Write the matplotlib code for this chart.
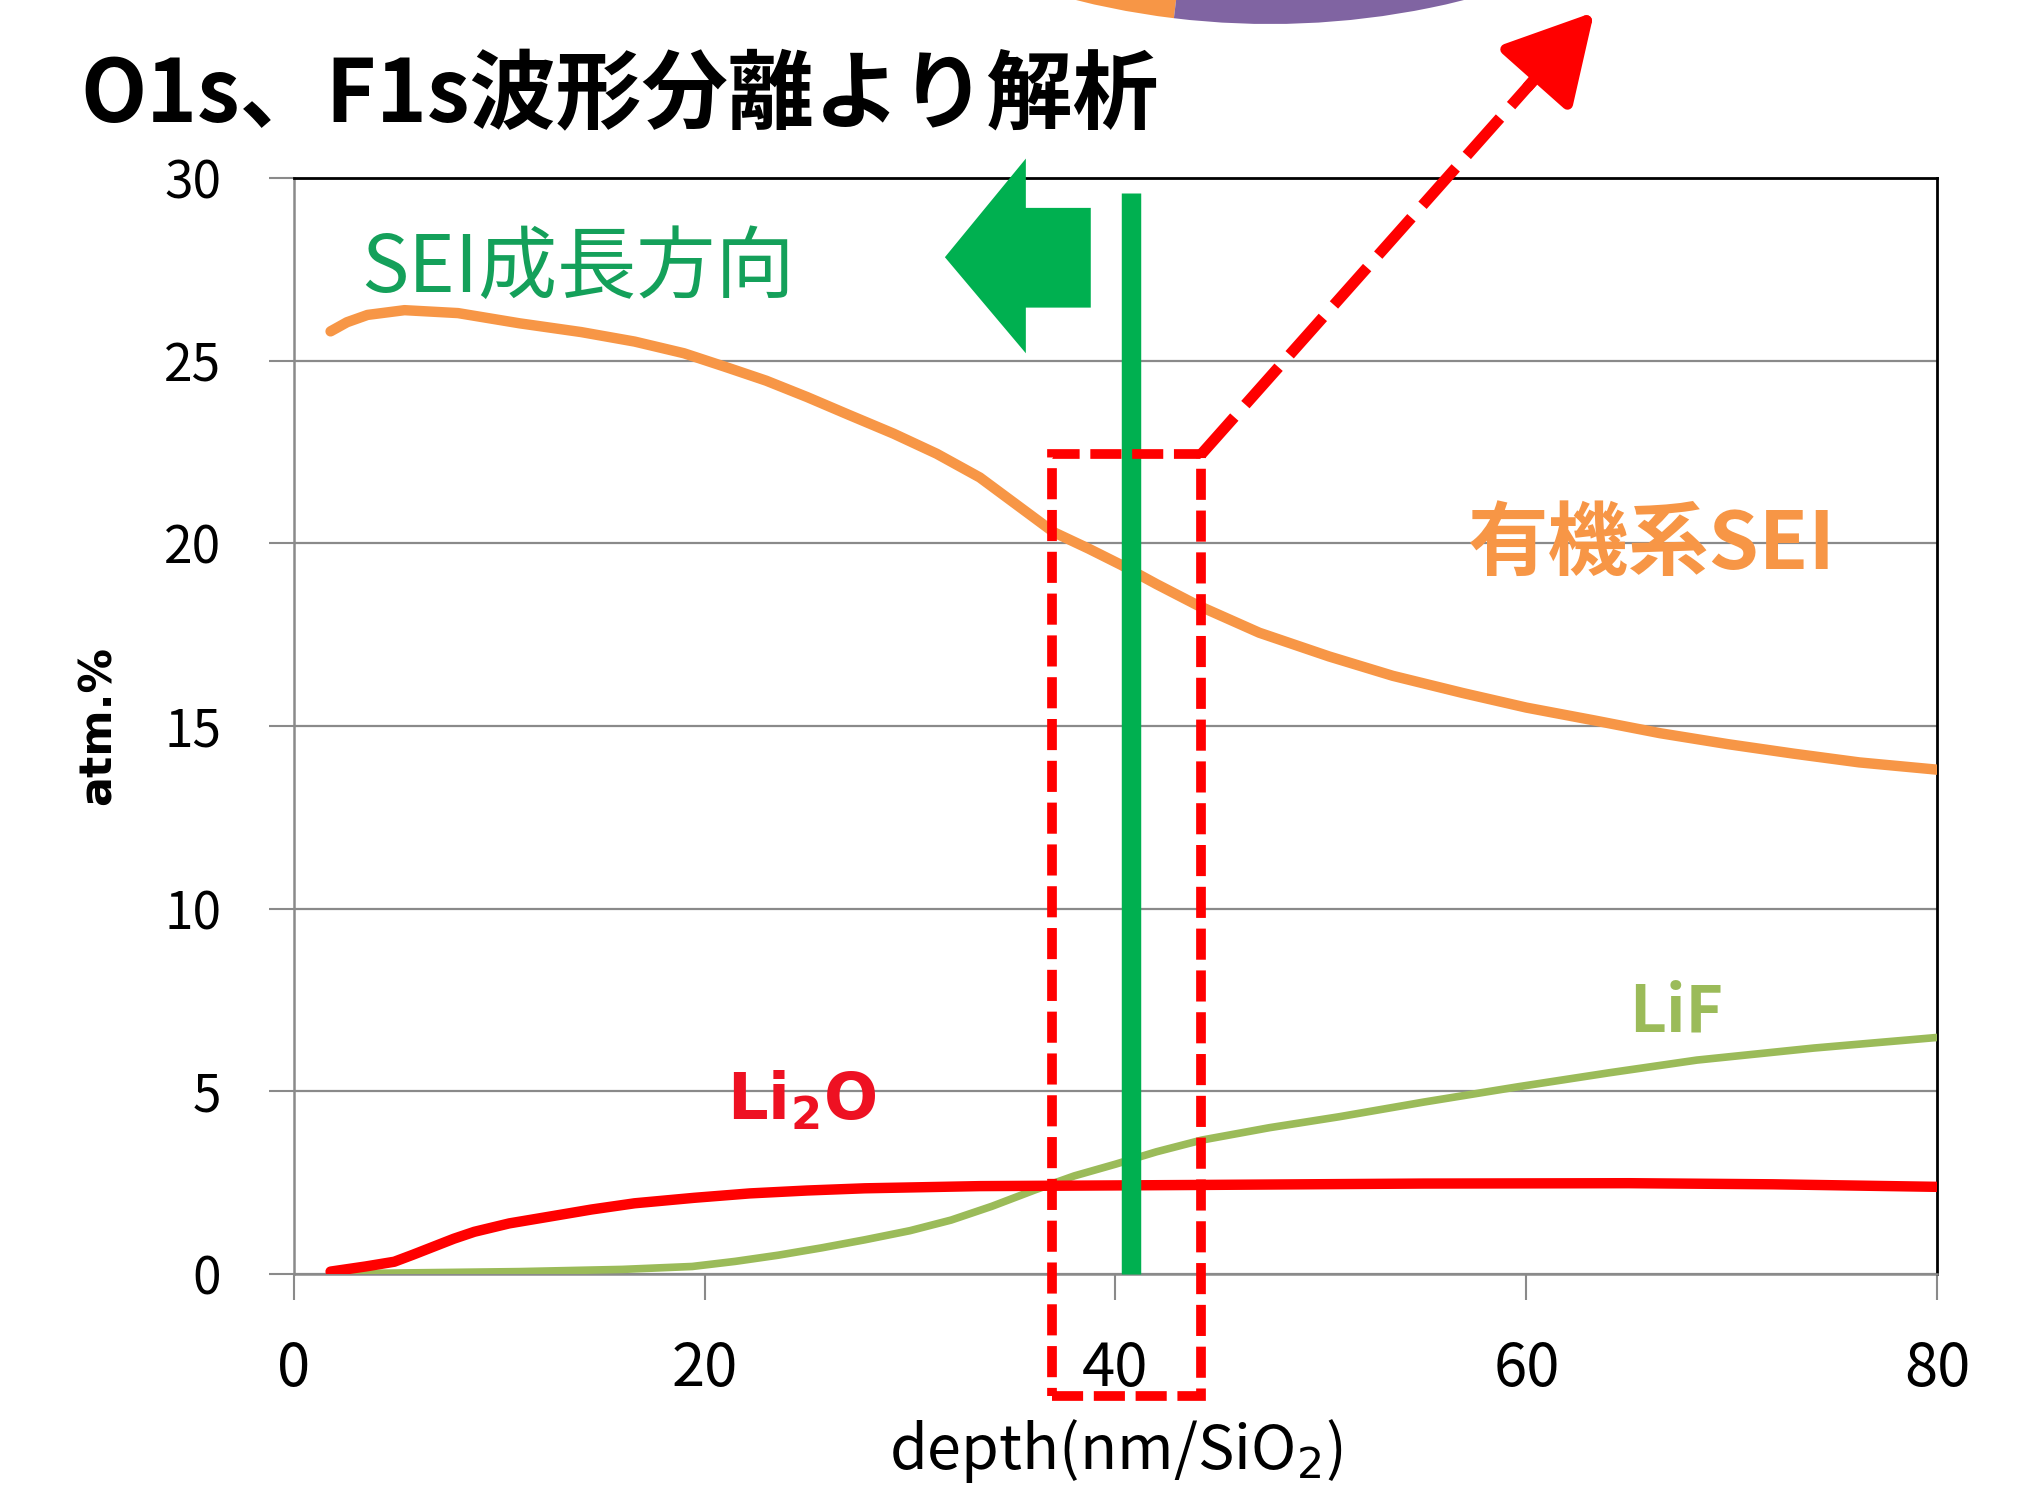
import numpy as np
import matplotlib
matplotlib.use("Agg")
import matplotlib.pyplot as plt
from matplotlib.patches import Rectangle, Polygon, Wedge, FancyArrowPatch

plt.rcParams["font.family"] = ["Noto Sans CJK JP", "DejaVu Sans"]

# Depth profiles (atm.%) from O1s / F1s peak fitting
organic_x = [1.8, 2.6, 3.6, 5.4, 8, 11, 14, 16.6, 19, 21, 23, 25, 27, 29.2, 31.3, 33.4, 35.2, 37, 38.7,
             40.3, 42, 44, 47, 50.4, 53.5, 56.9, 60, 63.3, 66.5, 69.8, 73, 76.2, 80]
organic_y = [25.8, 26.05, 26.25, 26.38, 26.3, 26.02, 25.78, 25.52, 25.2, 24.83, 24.45, 24.0, 23.52,
             23.0, 22.45, 21.8, 21.05, 20.3, 19.85, 19.4, 18.88, 18.3, 17.55, 16.9, 16.37, 15.9,
             15.5, 15.15, 14.8, 14.5, 14.24, 14.0, 13.8]

li2o_x = [1.8, 3.5, 4.9, 5.8, 6.8, 7.8, 8.8, 10.5, 12.4, 14.5, 16.6, 19.5, 22.2, 25, 27.8, 33.4, 43.6,
          55, 65, 72, 80]
li2o_y = [0.06, 0.2, 0.33, 0.52, 0.74, 0.96, 1.15, 1.38, 1.56, 1.76, 1.93, 2.08, 2.2, 2.28, 2.34,
          2.4, 2.43, 2.47, 2.48, 2.45, 2.38]

lif_x = [1.8, 11, 16, 19.4, 21.5, 23.6, 25.7, 27.8, 30, 32, 34, 36.1, 38, 40, 42, 44.2, 47.5, 50.9,
         55, 59.6, 64, 68.3, 74, 80]
lif_y = [0.0, 0.06, 0.12, 0.2, 0.34, 0.51, 0.71, 0.93, 1.18, 1.47, 1.85, 2.3, 2.68, 3.0, 3.34, 3.66,
         4.0, 4.3, 4.7, 5.12, 5.5, 5.85, 6.18, 6.47]

x_ticks = [0, 20, 40, 60, 80]
y_ticks = [0, 5, 10, 15, 20, 25, 30]

# markers on the plot
growth_depth = 40.76
zoom_box = (36.9, -3.34, 44.17, 22.43)  # x0, y0, x1, y1
pointer_tip = (63.3, 34.54)

ORANGE = "#F79646"
RED = "#FF0000"
OLIVE = "#9BBB59"
GREEN = "#00B050"
GRID = "#8A8A8A"

fig = plt.figure(figsize=(20.36, 14.94), dpi=100)

# background layer in pixel units for the pie fragment at the top
bg = fig.add_axes([0, 0, 1, 1])
bg.set_xlim(0, 2036)
bg.set_ylim(0, 1494)
bg.axis("off")
pie_c = (1270, 2270)
bg.add_patch(Wedge(pie_c, 800, 226, 263.1, facecolor=ORANGE, edgecolor="none"))
bg.add_patch(Wedge(pie_c, 800, 263.1, 300, facecolor="#8064A2", edgecolor="none"))

ax = fig.add_axes([0.1442, 0.1474, 0.8073, 0.7335])
ax.set_xlim(0, 80)
ax.set_ylim(0, 30)
ax.set_xticks(x_ticks)
ax.set_yticks(y_ticks)
ax.yaxis.grid(True, color=GRID, lw=1.6)
ax.set_axisbelow(True)

for side in ("top", "right"):
    ax.spines[side].set_color("black")
    ax.spines[side].set_linewidth(2)
for side in ("left", "bottom"):
    ax.spines[side].set_color(GRID)
    ax.spines[side].set_linewidth(1.8)

ax.tick_params(axis="y", length=18, width=1.5, color=GRID, pad=34, labelsize=37)
ax.tick_params(axis="x", length=19, width=1.5, color=GRID, pad=28, labelsize=43)

ax.plot(organic_x, organic_y, color=ORANGE, lw=7.5, solid_capstyle="round", zorder=3)
ax.plot(lif_x, lif_y, color=OLIVE, lw=5.5, solid_capstyle="round", zorder=3)
ax.plot(li2o_x, li2o_y, color=RED, lw=7.5, solid_capstyle="round", zorder=3)

# SEI growth marker and direction arrow
ax.plot([growth_depth, growth_depth], [0, 29.6], color=GREEN, lw=14,
        solid_capstyle="butt", zorder=4, clip_on=False)
arrow_pts = [(31.7, 27.83), (35.64, 30.53), (35.64, 29.18), (38.8, 29.18),
             (38.8, 26.45), (35.64, 26.45), (35.64, 25.2)]
ax.add_patch(Polygon(arrow_pts, closed=True, facecolor=GREEN, edgecolor="none",
                     zorder=4, clip_on=False))

# dashed box around the growth front
bx0, by0, bx1, by1 = zoom_box
box = Rectangle((bx0, by0), bx1 - bx0, by1 - by0, fill=False, edgecolor=RED,
                lw=7, zorder=5, clip_on=False)
box.set_linestyle((0, (3.2, 1.1)))
ax.add_patch(box)

# dashed pointer from the box
sx, sy = bx1, by1
tx, ty = pointer_tip
frac = 0.87
hx, hy = sx + frac * (tx - sx), sy + frac * (ty - sy)
ax.plot([sx, hx], [sy, hy], color=RED, lw=8, dashes=(4.5, 1.5),
        zorder=5, clip_on=False)
head = FancyArrowPatch((hx - 0.3 * (tx - hx), hy - 0.3 * (ty - hy)), (tx, ty),
                       arrowstyle="-|>,head_length=0.4,head_width=0.22",
                       mutation_scale=135, color=RED, lw=8, shrinkA=0, shrinkB=0,
                       zorder=5, clip_on=False)
ax.add_patch(head)

# labels
ax.text(3.3, 27.5, "SEI成長方向", color="#14A05A", fontsize=57, va="center",
        ha="left", zorder=6)
ax.text(57.1, 19.94, "有機系SEI", color=ORANGE, fontsize=58, fontweight="bold",
        va="center", ha="left", zorder=6)
ax.text(65.0, 7.14, "LiF", color=OLIVE, fontsize=46, fontweight="bold",
        va="center", ha="left", zorder=6)
ax.text(21.1, 4.73, r"$\mathbf{Li_2O}$", color="#EE1122", fontsize=46,
        va="center", ha="left", zorder=6)

ax.set_ylabel("atm.%", fontsize=32, fontweight="bold", family=["DejaVu Sans"],
              labelpad=32)
ax.set_xlabel(r"depth(nm/SiO$_2$)", fontsize=44, labelpad=12)

fig.text(0.0395, 0.935, "O1s、F1s波形分離より解析", fontsize=62, fontweight="bold",
         ha="left", va="center", color="black")

fig.savefig("out.png", dpi=100)
